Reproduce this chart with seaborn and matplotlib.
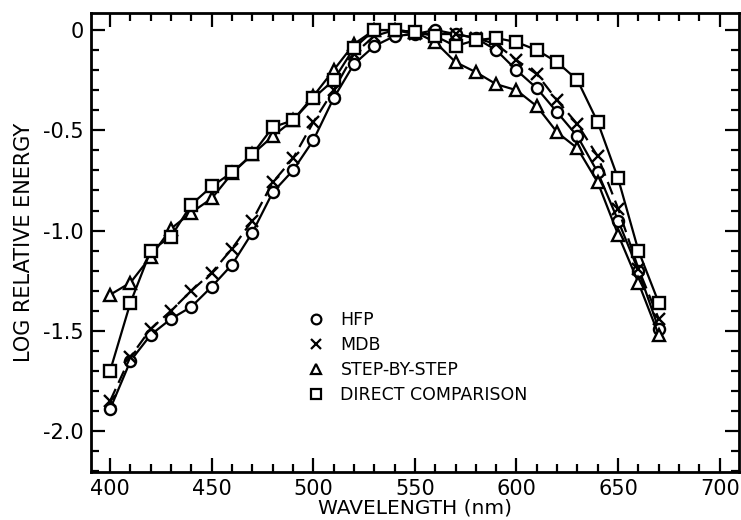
import matplotlib
matplotlib.use("Agg")
import matplotlib.pyplot as plt
from matplotlib.lines import Line2D
from matplotlib.ticker import MultipleLocator, FuncFormatter
import seaborn as sns
import pandas as pd

# Wavelengths (nm) at which the spectral sensitivity was measured
wavelength = [400, 410, 420, 430, 440, 450, 460, 470, 480, 490,
              500, 510, 520, 530, 540, 550, 560, 570, 580, 590,
              600, 610, 620, 630, 640, 650, 660, 670]

# Log relative energy for each method
hfp = [-1.89, -1.65, -1.52, -1.44, -1.38, -1.28, -1.17, -1.01, -0.81, -0.70,
       -0.55, -0.34, -0.17, -0.08, -0.03, -0.02, 0.00, -0.02, -0.04, -0.10,
       -0.20, -0.29, -0.41, -0.53, -0.71, -0.95, -1.20, -1.49]
mdb = [-1.85, -1.63, -1.49, -1.40, -1.30, -1.21, -1.09, -0.95, -0.76, -0.64,
       -0.46, -0.30, -0.12, -0.03, 0.00, -0.02, -0.02, -0.02, -0.04, -0.07,
       -0.15, -0.22, -0.35, -0.47, -0.63, -0.89, -1.19, -1.44]
step_by_step = [-1.32, -1.26, -1.13, -0.99, -0.91, -0.84, -0.715, -0.62, -0.53, -0.45,
                -0.33, -0.20, -0.07, 0.00, 0.00, -0.01, -0.06, -0.16, -0.21, -0.27,
                -0.30, -0.38, -0.51, -0.59, -0.76, -1.02, -1.26, -1.52]
direct_comparison = [-1.70, -1.36, -1.10, -1.03, -0.87, -0.78, -0.71, -0.62, -0.485, -0.45,
                     -0.34, -0.25, -0.09, 0.00, 0.00, -0.01, -0.03, -0.08, -0.05, -0.04,
                     -0.06, -0.10, -0.16, -0.25, -0.46, -0.74, -1.10, -1.36]

series_names = ["HFP", "MDB", "STEP-BY-STEP", "DIRECT COMPARISON"]
series_values = [hfp, mdb, step_by_step, direct_comparison]

sns.set_style("ticks")
plt.rcParams["font.family"] = ["DejaVu Sans"]
for key in ("text.color", "axes.labelcolor", "xtick.color", "ytick.color",
            "axes.edgecolor"):
    plt.rcParams[key] = "black"

df = pd.DataFrame({"wavelength": wavelength,
                   **{n: v for n, v in zip(series_names, series_values)}})

fig = plt.figure(figsize=(7.41, 5.20), dpi=100)
ax = fig.add_axes([0.1228, 0.0923, 0.8745, 0.8827])

styles = {
    "HFP": dict(marker="o", linestyle="-", markersize=8),
    "MDB": dict(marker="x", linestyle=(0, (6, 3)), markersize=9),
    "STEP-BY-STEP": dict(marker="^", linestyle="-", markersize=9),
    "DIRECT COMPARISON": dict(marker="s", linestyle="-", markersize=8),
}

for name in series_names:
    st = styles[name]
    sns.lineplot(data=df, x="wavelength", y=name, ax=ax, color="black",
                 linewidth=1.6, marker=st["marker"], linestyle=st["linestyle"],
                 markersize=st["markersize"], markerfacecolor="white",
                 markeredgecolor="black", markeredgewidth=1.7,
                 errorbar=None, estimator=None)

ax.set_xlim(390.6, 709.5)
ax.set_ylim(-2.204, 0.085)

ax.xaxis.set_major_locator(MultipleLocator(50))
ax.xaxis.set_minor_locator(MultipleLocator(10))
ax.yaxis.set_major_locator(MultipleLocator(0.5))
ax.yaxis.set_minor_locator(MultipleLocator(0.1))


def fmt_y(v, pos):
    if abs(v) < 1e-9:
        return "0"
    return f"{v:.1f}"


ax.yaxis.set_major_formatter(FuncFormatter(fmt_y))

ax.tick_params(which="both", direction="in", top=True, right=True,
               color="black", width=1.6)
ax.tick_params(which="major", length=10, labelsize=15, pad=5)
ax.tick_params(which="minor", length=6)

for sp in ax.spines.values():
    sp.set_linewidth(2.0)
    sp.set_color("black")

ax.set_xlabel("WAVELENGTH (nm)", fontsize=14.5, labelpad=0)
ax.set_ylabel("LOG RELATIVE ENERGY", fontsize=15, labelpad=7)

handles = [Line2D([], [], color="black", linestyle="none",
                  marker=styles[n]["marker"], markersize=7,
                  markerfacecolor="white", markeredgecolor="black",
                  markeredgewidth=1.6) for n in series_names]
ax.legend(handles, series_names, loc="upper left",
          bbox_to_anchor=(0.31, 0.385), frameon=False, fontsize=12.5,
          handletextpad=0.9, labelspacing=0.4, handlelength=1.0)

fig.savefig("out.png", dpi=100)
